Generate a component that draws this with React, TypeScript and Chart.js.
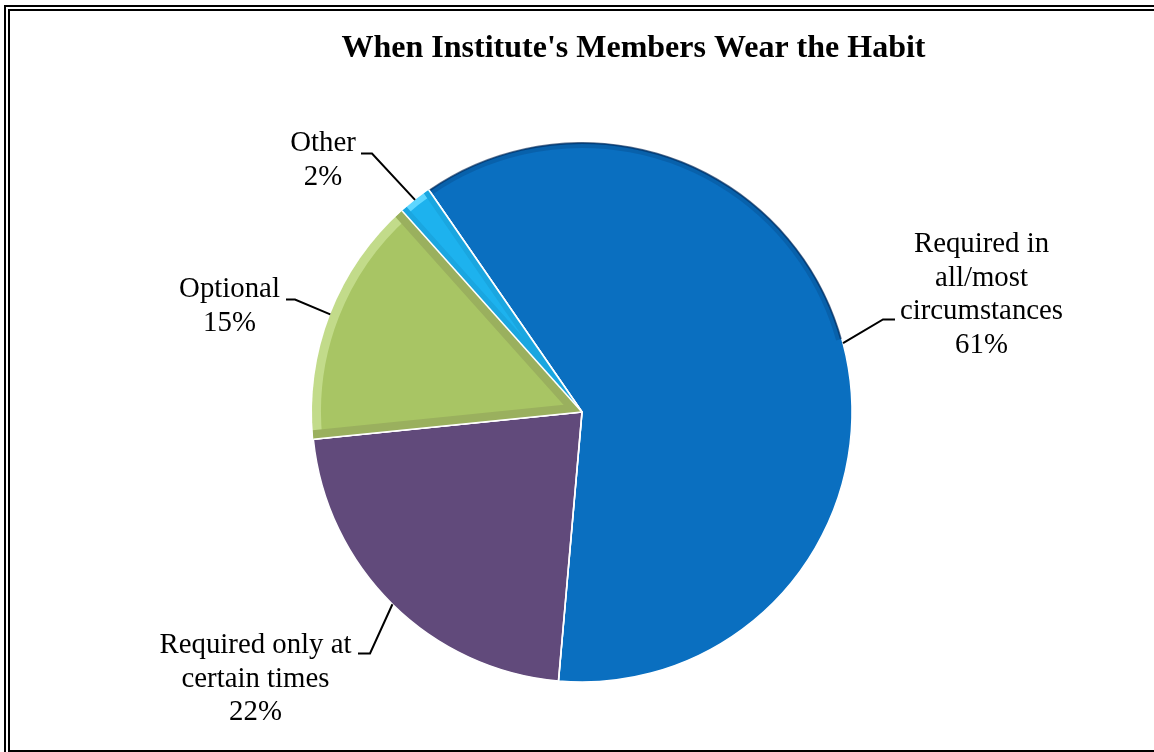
import React, { useEffect, useRef } from "react";
import { Chart, registerables } from "chart.js";

Chart.register(...registerables);

// ---- data ----
const chartTitle = "When Institute's Members Wear the Habit";
const categories = [
  "Required in all/most circumstances",
  "Required only at certain times",
  "Optional",
  "Other",
];
const labelLines = [
  ["Required in", "all/most", "circumstances"],
  ["Required only at", "certain times"],
  ["Optional"],
  ["Other"],
];
const values = [61, 22, 15, 2];
const sliceColors = ["#0A6FC0", "#614A7B", "#A8C564", "#1DB2EE"];

// ---- layout / style (not data) ----
const W = 1154;
const H = 752;
const SERIF = '"Liberation Serif", "Times New Roman", serif';
const labelLayout = [
  { cx: 981.5, baseline: 252, elbow: [883, 319.5], stub: [895, 319.5] },
  { cx: 255.5, baseline: 653, elbow: [370, 653.5], stub: [358, 653.5] },
  { cx: 229.5, baseline: 297, elbow: [295, 299.5], stub: [286, 299.5] },
  { cx: 323, baseline: 151, elbow: [372, 153.5], stub: [361, 153.5] },
];
const bevels: Record<number, { d: number; light: string; dark: string }> = {
  2: { d: 9, light: "#C2DB8A", dark: "#9AB05E" },
  3: { d: 6, light: "#5ED6FF", dark: "#1AA6E0" },
};

function drawScaledText(ctx: CanvasRenderingContext2D, text: string, cx: number, baseline: number, sx: number) {
  ctx.save();
  ctx.translate(cx, baseline);
  ctx.scale(sx, 1);
  ctx.textAlign = "center";
  ctx.textBaseline = "alphabetic";
  ctx.fillText(text, 0, 0);
  ctx.restore();
}

const decorPlugin = {
  id: "decor",
  beforeDraw(chart: any) {
    const ctx: CanvasRenderingContext2D = chart.ctx;
    ctx.save();
    ctx.fillStyle = "#ffffff";
    ctx.fillRect(0, 0, W, H);
    ctx.strokeStyle = "#000";
    ctx.lineWidth = 2;
    ctx.strokeRect(5, 6, W + 20, H + 20);
    ctx.strokeRect(9, 10, W + 20, 741);
    ctx.restore();
  },
  afterDatasetsDraw(chart: any) {
    const ctx: CanvasRenderingContext2D = chart.ctx;
    const meta = chart.getDatasetMeta(0);
    // blue rim shading near top
    {
      const a = meta.data[0].getProps(["x", "y", "startAngle", "endAngle", "outerRadius"], true);
      ctx.save();
      ctx.beginPath();
      ctx.moveTo(a.x, a.y);
      ctx.arc(a.x, a.y, a.outerRadius, a.startAngle, a.endAngle);
      ctx.closePath();
      ctx.clip();
      ctx.beginPath();
      ctx.arc(a.x, a.y, a.outerRadius, a.startAngle, a.startAngle + 1.9);
      ctx.strokeStyle = "rgba(0,35,80,0.55)";
      ctx.lineWidth = 4;
      ctx.stroke();
      ctx.beginPath();
      ctx.arc(a.x, a.y, a.outerRadius - 3, a.startAngle, a.startAngle + 1.9);
      ctx.strokeStyle = "rgba(0,35,80,0.18)";
      ctx.lineWidth = 6;
      ctx.stroke();
      ctx.restore();
    }
    // bevels
    Object.keys(bevels).forEach((k) => {
      const i = Number(k);
      const b = bevels[i];
      const a = meta.data[i].getProps(["x", "y", "startAngle", "endAngle", "outerRadius"], true);
      const R = a.outerRadius;
      ctx.save();
      ctx.beginPath();
      ctx.moveTo(a.x, a.y);
      ctx.arc(a.x, a.y, R, a.startAngle, a.endAngle);
      ctx.closePath();
      ctx.clip();
      ctx.beginPath();
      ctx.arc(a.x, a.y, R, a.startAngle, a.endAngle);
      ctx.strokeStyle = b.light;
      ctx.lineWidth = 2 * b.d;
      ctx.stroke();
      ctx.beginPath();
      ctx.moveTo(a.x, a.y);
      ctx.lineTo(a.x + Math.cos(a.startAngle) * R, a.y + Math.sin(a.startAngle) * R);
      ctx.moveTo(a.x, a.y);
      ctx.lineTo(a.x + Math.cos(a.endAngle) * R, a.y + Math.sin(a.endAngle) * R);
      ctx.strokeStyle = b.dark;
      ctx.lineWidth = 2 * b.d;
      ctx.stroke();
      ctx.restore();
    });
    // white separators
    ctx.save();
    ctx.strokeStyle = "#ffffff";
    ctx.lineWidth = 1.6;
    meta.data.forEach((el: any) => {
      const a = el.getProps(["x", "y", "startAngle", "outerRadius"], true);
      ctx.beginPath();
      ctx.moveTo(a.x, a.y);
      ctx.lineTo(a.x + Math.cos(a.startAngle) * a.outerRadius, a.y + Math.sin(a.startAngle) * a.outerRadius);
      ctx.stroke();
    });
    ctx.restore();
  },
  afterDraw(chart: any) {
    const ctx: CanvasRenderingContext2D = chart.ctx;
    const meta = chart.getDatasetMeta(0);
    ctx.save();
    ctx.fillStyle = "#000";
    // title
    ctx.font = `bold 32px ${SERIF}`;
    drawScaledText(ctx, chartTitle, 633.5, 57, 1.0);
    // labels + leader lines
    ctx.font = `28.8px ${SERIF}`;
    meta.data.forEach((el: any, i: number) => {
      const a = el.getProps(["x", "y", "startAngle", "endAngle", "outerRadius"], true);
      const mid = (a.startAngle + a.endAngle) / 2;
      const px = a.x + Math.cos(mid) * a.outerRadius;
      const py = a.y + Math.sin(mid) * a.outerRadius;
      const L = labelLayout[i];
      ctx.beginPath();
      ctx.moveTo(px, py);
      ctx.lineTo(L.elbow[0], L.elbow[1]);
      ctx.lineTo(L.stub[0], L.stub[1]);
      ctx.strokeStyle = "#000";
      ctx.lineWidth = 2;
      ctx.stroke();
      const lines = [...labelLines[i], `${values[i]}%`];
      lines.forEach((t, j) => drawScaledText(ctx, t, L.cx, L.baseline + j * 33.5, 1.0));
    });
    ctx.restore();
  },
};

export default function App() {
  const ref = useRef<HTMLCanvasElement | null>(null);
  useEffect(() => {
    if (!ref.current) return;
    const chart = new Chart(ref.current, {
      type: "pie",
      data: {
        labels: categories,
        datasets: [
          {
            data: values,
            backgroundColor: sliceColors,
            borderColor: "#ffffff",
            borderWidth: 1.5,
            radius: 270,
          } as any,
        ],
      },
      options: {
        responsive: false,
        animation: false,
        rotation: -34.6,
        layout: { padding: { left: 312, right: 302, top: 142, bottom: 70 } },
        plugins: {
          legend: { display: false },
          title: { display: false },
          tooltip: { enabled: false },
        },
      },
      plugins: [decorPlugin],
    });
    return () => chart.destroy();
  }, []);
  return (
    <div style={{ position: "absolute", left: 0, top: 0, width: W, height: H, background: "#fff" }}>
      <canvas ref={ref} width={W} height={H} style={{ display: "block", width: W, height: H }} />
    </div>
  );
}
